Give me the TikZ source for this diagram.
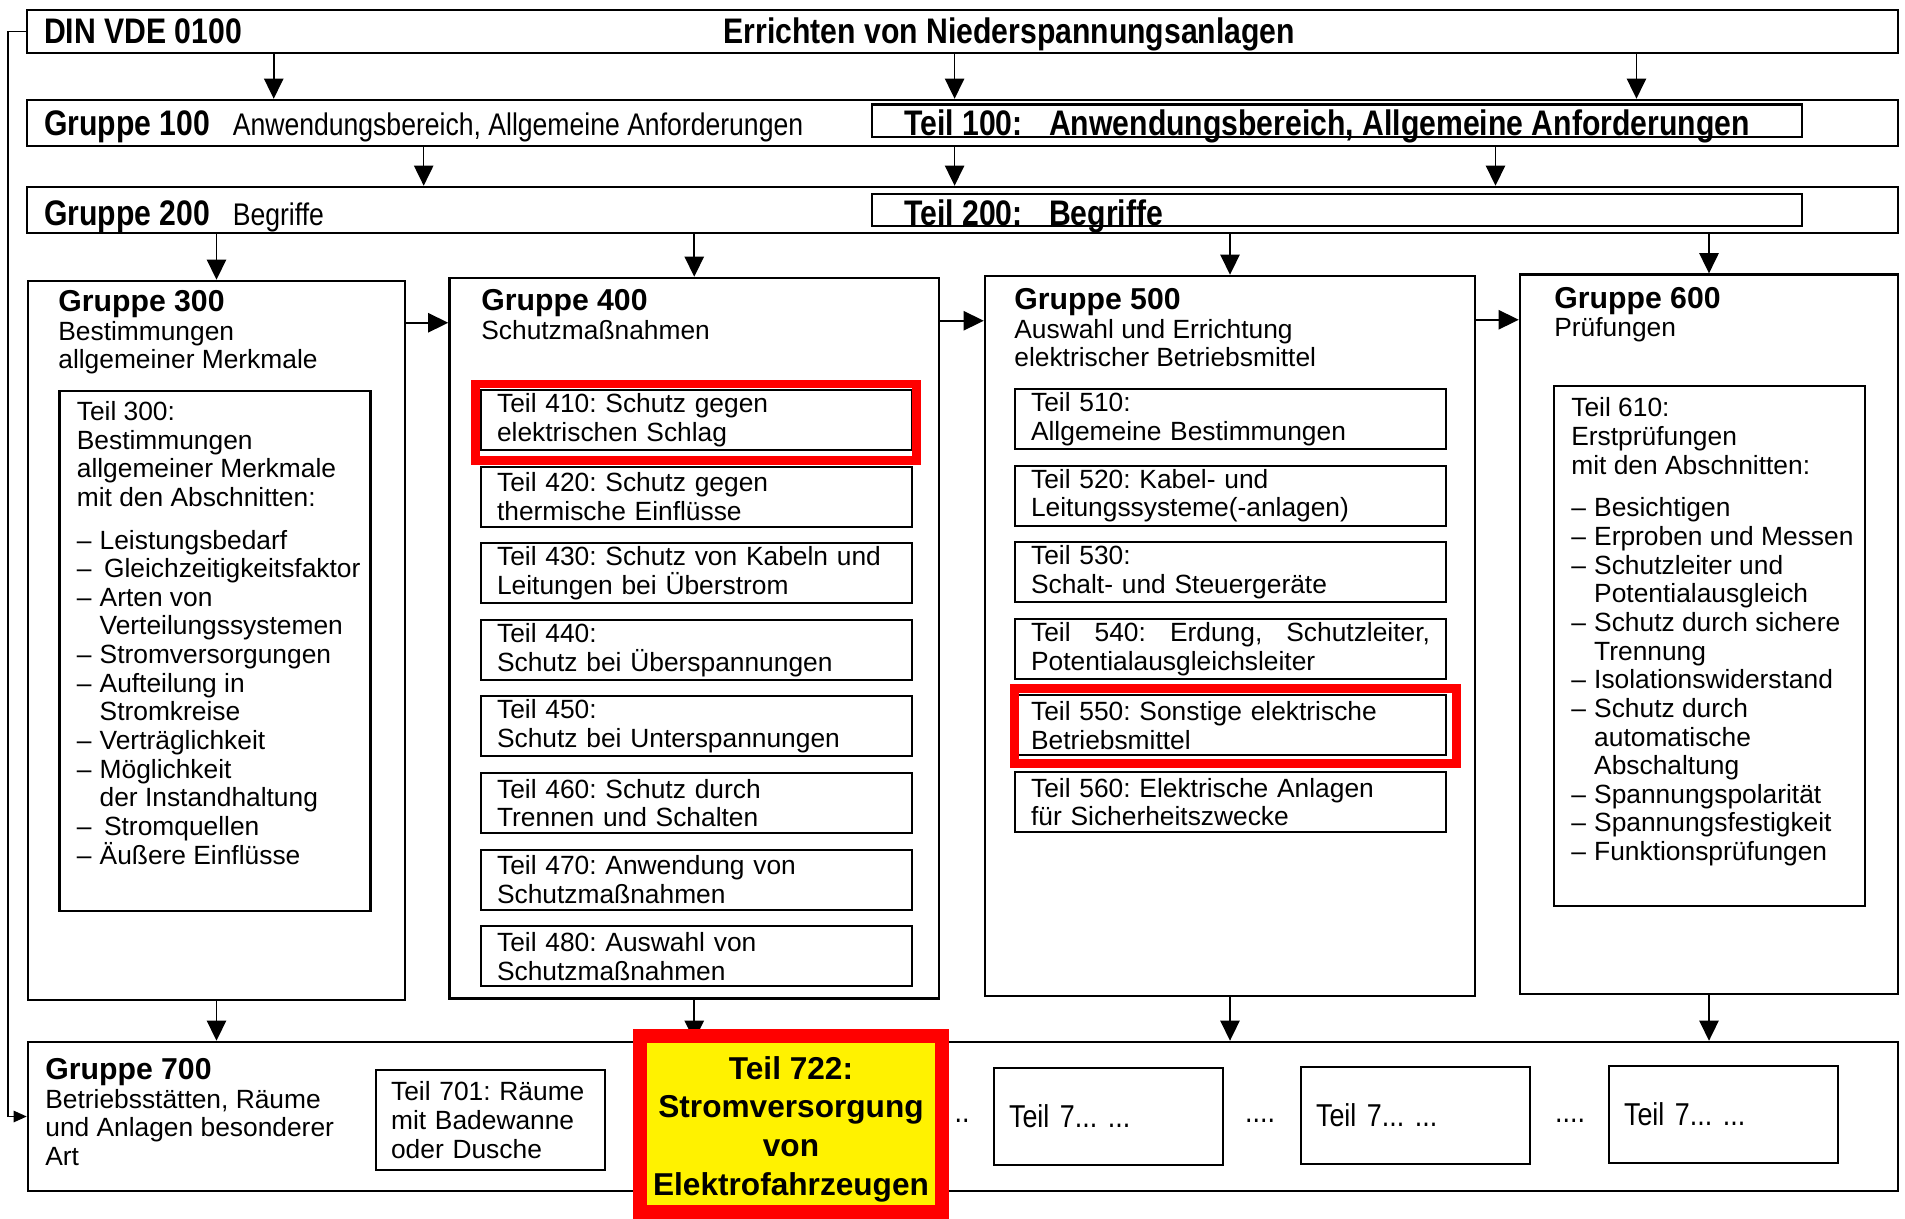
\documentclass[tikz,border=0pt]{standalone}
\usepackage{fontspec}
\setmainfont{Liberation Sans}
\newfontfamily\condfont{Liberation Sans}[FakeStretch=0.85]
\usetikzlibrary{arrows.meta,positioning,fit,calc}
\newcommand{\dl}{\makebox[13pt][l]{--}}
\newcommand{\ind}{\hspace*{13pt}}
\newcommand{\ghead}[1]{{\fontsize{17.2pt}{17pt}\selectfont\bfseries #1}}
\frenchspacing

\begin{document}
\begin{tikzpicture}[x=0.02cm, y=-0.02cm,
  row/.style={draw, line width=1.4pt, inner sep=0pt},
  grp/.style={draw, line width=1.4pt, inner sep=0pt},
  rowteil/.style={draw, line width=1.2pt, inner sep=0pt},
  frame/.style={draw, line width=1.3pt, inner sep=0pt},
  txt/.style={inner sep=0pt, align=left, font=\fontsize{15pt}{16.3pt}\selectfont},
  teil/.style={draw, line width=1.2pt, anchor=north west, minimum height=1.2cm, inner xsep=0.32cm, inner ysep=0pt, text width=7.98cm, align=left, font=\fontsize{15pt}{16.4pt}\selectfont},
  cond/.style={inner sep=0pt, anchor=base west, font=\condfont\fontsize{17.8pt}{20pt}\selectfont},
  condb/.style={inner sep=0pt, anchor=base west, font=\condfont\bfseries\fontsize{20.2pt}{22pt}\selectfont},
  sub/.style={draw, line width=1.2pt, anchor=north west, minimum width=4.58cm, inner xsep=0.3cm, text width=3.98cm, align=left, font=\fontsize{15pt}{16.4pt}\selectfont},
  dots/.style={inner sep=0pt, font=\condfont\fontsize{18pt}{20pt}\selectfont},
  hl/.style={draw=red, fill=yellow, line width=0.28cm},
  hltxt/.style={inner sep=0pt, align=center, font=\bfseries\fontsize{18pt}{22pt}\selectfont},
  redframe/.style={draw=red, line width=0.18cm},
  arr/.style={-{Triangle[length=11.5pt,width=11pt]}, line width=0.9pt},
  smallarr/.style={-{Triangle[length=7.5pt,width=6.5pt]}, line width=0.9pt}
]
\useasboundingbox (0,0) rectangle (1905,1219);
\fill[white] (0,0) rectangle (1905,1219);

\node[row, fit={(27,10) (1898,53)}] (din) {};
\node[row, fit={(27,100) (1898,146)}] (g100) {};
\node[row, fit={(27,187) (1898,233)}] (g200) {};
\node[rowteil, fit={(872,104.5) (1802,137.3)}] (t100) {};
\node[rowteil, fit={(872,194) (1802,226)}] (t200) {};

\node[condb] (dint) at ([shift={(0.36cm,-0.25cm)}]din.west) {DIN VDE 0100};
\node[condb, right=9.62cm of dint.base east, anchor=base west] (dinr) {Errichten von Niederspannungsanlagen};
\node[condb] (g100t) at ([shift={(0.36cm,-0.25cm)}]g100.west) {Gruppe 100};
\node[cond, right=0.44cm of g100t.base east, anchor=base west] (g100s) {Anwendungsbereich, Allgemeine Anforderungen};
\node[condb] (t100t) at ([shift={(0.66cm,-0.29cm)}]t100.west) {Teil 100:\hspace{15pt}Anwendungsbereich, Allgemeine Anforderungen};
\node[condb] (g200t) at ([shift={(0.36cm,-0.31cm)}]g200.west) {Gruppe 200};
\node[cond, right=0.44cm of g200t.base east, anchor=base west] (g200s) {Begriffe};
\node[condb] (t200t) at ([shift={(0.66cm,-0.31cm)}]t200.west) {Teil 200:\hspace{15pt}Begriffe};

\node[grp, fit={(28,281) (405,1000)}] (g300) {};
\node[grp, fit={(449.5,278) (939,998.6)}] (g400) {};
\node[grp, fit={(985,276) (1475,996)}] (g500) {};
\node[grp, fit={(1520,274.6) (1898,994)}] (g600) {};
\node[grp, fit={(28,1042) (1898,1191)}] (g700) {};

\node[txt, anchor=north west] (g300h) at (58,290) {\ghead{Gruppe 300}\\Bestimmungen\\allgemeiner Merkmale};
\node[txt, anchor=north west] (g400h) at (481,289) {\ghead{Gruppe 400}\\Schutzmaßnahmen};
\node[txt, anchor=north west] (g500h) at (1014,288) {\ghead{Gruppe 500}\\Auswahl und Errichtung\\elektrischer Betriebsmittel};
\node[txt, anchor=north west] (g600h) at (1554,286.6) {\ghead{Gruppe 600}\\Prüfungen};
\node[txt, anchor=north west] (g700h) at (45,1058) {\ghead{Gruppe 700}\\Betriebsstätten, Räume\\und Anlagen besonderer\\Art};

\node[frame, fit={(59.5,391) (370.5,911)}] (t300) {};
\node[txt, anchor=north west] (t300t) at (76.5,401) {Teil 300:\\Bestimmungen\\allgemeiner Merkmale\\mit den Abschnitten:\\[8pt]\dl Leistungsbedarf\\\dl\,Gleichzeitigkeitsfaktor\\\dl Arten von\\\ind Verteilungssystemen\\\dl Stromversorgungen\\\dl Aufteilung in\\\ind Stromkreise\\\dl Verträglichkeit\\\dl Möglichkeit\\\ind der Instandhaltung\\\dl\,Stromquellen\\\dl Äußere Einflüsse};

\node[frame, fit={(1554,386.3) (1865,906.3)}] (t610) {};
\node[txt, anchor=north west] (t610t) at (1571,397.5) {Teil 610:\\Erstprüfungen\\mit den Abschnitten:\\[8pt]\dl Besichtigen\\\dl Erproben und Messen\\\dl Schutzleiter und\\\ind Potentialausgleich\\\dl Schutz durch sichere\\\ind Trennung\\\dl Isolationswiderstand\\\dl Schutz durch\\\ind automatische\\\ind Abschaltung\\\dl Spannungspolarität\\\dl Spannungsfestigkeit\\\dl Funktionsprüfungen};

\node[teil] (t410) at (480,389) {Teil 410: Schutz gegen\\elektrischen Schlag};
\node[teil, below=0.29cm of t410] (t420) {Teil 420: Schutz gegen\\thermische Einflüsse};
\node[teil, below=0.29cm of t420] (t430) {Teil 430: Schutz von Kabeln und\\Leitungen bei Überstrom};
\node[teil, below=0.29cm of t430] (t440) {Teil 440:\\Schutz bei Überspannungen};
\node[teil, below=0.29cm of t440] (t450) {Teil 450:\\Schutz bei Unterspannungen};
\node[teil, below=0.29cm of t450] (t460) {Teil 460: Schutz durch\\Trennen und Schalten};
\node[teil, below=0.29cm of t460] (t470) {Teil 470: Anwendung von\\Schutzmaßnahmen};
\node[teil, below=0.29cm of t470] (t480) {Teil 480: Auswahl von\\Schutzmaßnahmen};

\node[teil] (t510) at (1014,388) {Teil 510:\\Allgemeine Bestimmungen};
\node[teil, below=0.29cm of t510] (t520) {Teil 520: Kabel- und\\Leitungssysteme(-anlagen)};
\node[teil, below=0.29cm of t520] (t530) {Teil 530:\\Schalt- und Steuergeräte};
\node[teil, below=0.29cm of t530] (t540) {Teil\hfill 540:\hfill Erdung,\hfill Schutzleiter,\\Potentialausgleichsleiter};
\node[teil, below=0.29cm of t540] (t550) {Teil 550: Sonstige elektrische\\Betriebsmittel};
\node[teil, below=0.29cm of t550] (t560) {Teil 560: Elektrische Anlagen\\für Sicherheitszwecke};

\node[sub, minimum height=2cm] (t701) at (375,1069) {Teil 701: Räume\\mit Badewanne\\oder Dusche};
\node[sub, minimum height=1.94cm, font=\condfont\fontsize{18pt}{20pt}\selectfont] (t7a) at (993,1067) {Teil 7... ...};
\node[sub, minimum height=1.94cm, font=\condfont\fontsize{18pt}{20pt}\selectfont] (t7b) at (1300,1066) {Teil 7... ...};
\node[sub, minimum height=1.94cm, font=\condfont\fontsize{18pt}{20pt}\selectfont] (t7c) at (1608,1065) {Teil 7... ...};
\node[dots] (dota) at (962,1121) {..};
\node[dots] (dotb) at (1260,1121) {....};
\node[dots] (dotc) at (1570,1121) {....};

\draw[arr] ([xshift=4.96cm]din.south west) -- ([xshift=4.96cm]g100.north west);
\draw[arr] ([xshift=18.58cm]din.south west) -- ([xshift=18.58cm]g100.north west);
\draw[arr] ([xshift=32.22cm]din.south west) -- ([xshift=32.22cm]g100.north west);
\draw[arr] ([xshift=7.96cm]g100.south west) -- ([xshift=7.96cm]g200.north west);
\draw[arr] ([xshift=18.58cm]g100.south west) -- ([xshift=18.58cm]g200.north west);
\draw[arr] ([xshift=29.4cm]g100.south west) -- ([xshift=29.4cm]g200.north west);

\draw[arr] (g200.south -| g300.north) -- (g300.north);
\draw[arr] (g200.south -| g400.north) -- (g400.north);
\draw[arr] (g200.south -| g500.north) -- (g500.north);
\draw[arr] (g200.south -| g600.north) -- (g600.north);

\coordinate (h34) at ([yshift=-0.86cm]g300.north east);
\coordinate (h45) at ([yshift=-0.88cm]g400.north east);
\coordinate (h56) at ([yshift=-0.9cm]g500.north east);
\draw[arr] (h34) -- (h34 -| g400.west);
\draw[arr] (h45) -- (h45 -| g500.west);
\draw[arr] (h56) -- (h56 -| g600.west);

\draw[arr] (g300.south) -- (g300.south |- g700.north);
\draw[arr] (g400.south) -- (g400.south |- g700.north);
\draw[arr] (g500.south) -- (g500.south |- g700.north);
\draw[arr] (g600.south) -- (g600.south |- g700.north);

\draw[smallarr] (din.west) -- ++(-0.35cm,0) |- (g700.west);

\draw[redframe] ([shift={(-0.09cm,0.1cm)}]t410.north west) rectangle ([shift={(0.06cm,-0.19cm)}]t410.south east);
\draw[redframe] ([shift={(0cm,0.12cm)}]t550.north west) rectangle ([shift={(0.19cm,-0.15cm)}]t550.south east);

\node[hl, minimum width=6.04cm, minimum height=3.52cm] (t722) at (791,1124) {};
\node[hltxt] (t722t) at ([yshift=-0.1cm]t722.center) {Teil 722:\\Stromversorgung\\von\\Elektrofahrzeugen};

\end{tikzpicture}
\end{document}
